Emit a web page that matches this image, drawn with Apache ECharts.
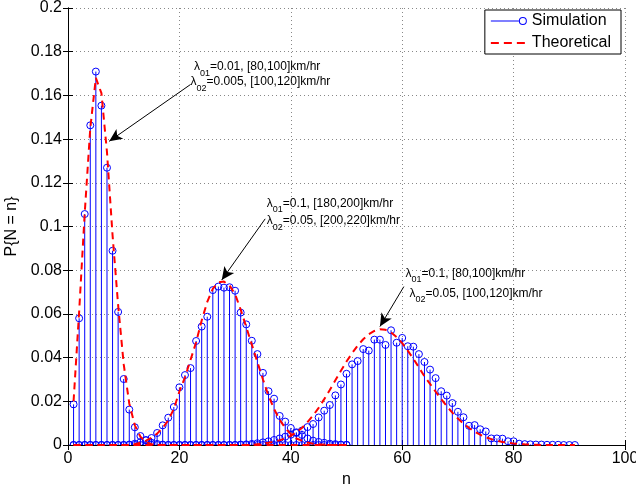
<!DOCTYPE html>
<html>
<head>
<meta charset="utf-8">
<script src="https://cdn.jsdelivr.net/npm/echarts@6/dist/echarts.min.js"></script>
<style>
  html, body { margin: 0; padding: 0; background: #fff; }
  #chart { width: 636px; height: 489px; }
</style>
</head>
<body>
<div id="chart"></div>
<script>
// simulated P{N = n}, index i -> n = i + 1
var simA = [0.0186, 0.058, 0.1057, 0.1463, 0.1709, 0.1553, 0.1269, 0.0889, 0.0609, 0.0302,
  0.0162, 0.0081, 0.0041, 0.0022, 0.001, 0.0005, 0.0002, 0, 0, 0,
  0, 0, 0, 0, 0, 0, 0, 0, 0, 0,
  0, 0, 0, 0, 0, 0, 0, 0, 0, 0,
  0, 0, 0, 0, 0, 0, 0, 0, 0, 0]
var simB = [0, 0, 0, 0, 0, 0, 0, 0, 0, 0,
  0.0002, 0.0006, 0.0013, 0.0022, 0.0032, 0.0055, 0.009, 0.0125, 0.0174, 0.0264,
  0.032, 0.0352, 0.0476, 0.0542, 0.0587, 0.0709, 0.0725, 0.072, 0.0722, 0.0706,
  0.0606, 0.0552, 0.0477, 0.0416, 0.033, 0.0246, 0.0212, 0.0133, 0.0107, 0.0078,
  0.0058, 0.0046, 0.003, 0.002, 0.0014, 0.001, 0.0006, 0.0004, 0.0002, 0.0001]
var simC = [0, 0, 0, 0, 0, 0, 0, 0, 0, 0,
  0, 0, 0, 0, 0, 0, 0, 0, 0, 0,
  0, 0, 0, 0, 0, 0, 0, 0, 0, 0,
  0.0002, 0.0003, 0.0005, 0.0008, 0.0012, 0.0017, 0.0023, 0.003, 0.0038, 0.0047,
  0.0055, 0.0066, 0.0082, 0.0096, 0.0126, 0.0157, 0.0183, 0.0227, 0.0277, 0.0326,
  0.0369, 0.0384, 0.0439, 0.0432, 0.0482, 0.0482, 0.0458, 0.0525, 0.0468, 0.049,
  0.0452, 0.045, 0.0416, 0.038, 0.0345, 0.0306, 0.0246, 0.0226, 0.0192, 0.0152,
  0.0127, 0.0088, 0.0091, 0.0072, 0.0062, 0.003, 0.003, 0.0029, 0.0017, 0.0017,
  0.0006, 0.0004, 0.0003, 0.0002, 0.0002, 0.0001, 0.0001, 0.0001, 0, 0,
  0]

// theoretical P{N = n}
var thA = [0.02, 0.061, 0.106, 0.145, 0.168, 0.161, 0.134, 0.096, 0.064, 0.037,
  0.019, 0.009, 0.0038, 0.0014, 0.0004, 0.0001, 0, 0, 0, 0,
  0, 0, 0, 0, 0, 0, 0, 0, 0, 0,
  0, 0, 0, 0, 0, 0, 0, 0, 0, 0,
  0, 0, 0, 0, 0, 0, 0, 0, 0, 0]
var thB = [0, 0, 0, 0, 0, 0, 0, 0, 0, 0,
  0, 0.0004, 0.001, 0.002, 0.0033, 0.0052, 0.0078, 0.0113, 0.0165, 0.0245,
  0.031, 0.039, 0.047, 0.057, 0.0655, 0.0715, 0.0745, 0.0748, 0.073, 0.069,
  0.062, 0.054, 0.046, 0.038, 0.03, 0.0225, 0.0165, 0.0115, 0.0078, 0.005,
  0.003, 0.002, 0.0011, 0.0006, 0.0003, 0.0001, 0, 0, 0, 0]
var thC = [0, 0, 0, 0, 0, 0, 0, 0, 0, 0,
  0, 0, 0, 0, 0, 0, 0, 0, 0, 0,
  0, 0, 0, 0, 0, 0, 0, 0, 0, 0,
  0, 0, 0, 0.0003, 0.0006, 0.001, 0.0015, 0.0022, 0.003, 0.0042,
  0.0058, 0.0078, 0.0105, 0.0135, 0.017, 0.021, 0.0252, 0.0296, 0.034, 0.0382,
  0.042, 0.0455, 0.0484, 0.0507, 0.0522, 0.053, 0.0527, 0.0515, 0.0494, 0.0466,
  0.0432, 0.0395, 0.0355, 0.0314, 0.028, 0.0244, 0.021, 0.0178, 0.0148, 0.0121,
  0.0098, 0.0078, 0.0061, 0.0047, 0.0036, 0.0027, 0.002, 0.0014, 0.001, 0.0007,
  0.0005, 0.0003, 0.0002, 0.0001, 0, 0, 0, 0, 0, 0,
  0]

var xTicks = [0, 20, 40, 60, 80, 100]
var yTicks = [0, 0.02, 0.04, 0.06, 0.08, 0.1, 0.12, 0.14, 0.16, 0.18, 0.2]

// annotations: [n, P] anchor of each text line, and arrows [from, to]
var notes = [
  { at: [22.6, 0.1731], lam: '01', txt: '=0.01, [80,100]km/hr' },
  { at: [22.0, 0.1663], lam: '02', txt: '=0.005, [100,120]km/hr' },
  { at: [35.7, 0.1106], lam: '01', txt: '=0.1, [180,200]km/hr' },
  { at: [35.7, 0.1027], lam: '02', txt: '=0.05, [200,220]km/hr' },
  { at: [60.6, 0.0786], lam: '01', txt: '=0.1, [80,100]km/hr' },
  { at: [61.3, 0.0694], lam: '02', txt: '=0.05, [100,120]km/hr' }
]
var arrows = [
  [[22.0, 0.165], [7.4, 0.139]],
  [[35.4, 0.1035], [27.6, 0.0755]],
  [[60.3, 0.0725], [56.0, 0.0542]]
]

var FONT = 'Liberation Sans, Arial, Helvetica, sans-serif'

function toPts(arr) {
  return arr.map(function(v, i) { return [i + 1, v] })
}

function renderStem(params, api) {
  var x = api.value(0)
  var y = api.value(1)
  var p0 = api.coord([x, 0])
  var p1 = api.coord([x, y])
  return {
    type: 'group',
    children: [
      { type: 'line', shape: { x1: p0[0], y1: p0[1], x2: p1[0], y2: p1[1] }, style: { stroke: '#0000ff', lineWidth: 1 } },
      { type: 'circle', shape: { cx: p1[0], cy: p1[1], r: 3.5 }, style: { fill: 'none', stroke: '#0000ff', lineWidth: 1 } }
    ]
  }
}

// legend icons: line ending in an open circle, and a dashed line
var simIcon = 'path://M0,4.6 L28,4.6 L28,5.4 L0,5.4 Z M36,5 A4,4 0 1,0 28,5 A4,4 0 1,0 36,5 Z M35,5 A3,3 0 1,1 29,5 A3,3 0 1,1 35,5 Z M0,0 L0.1,0 L0.1,0.1 Z M0,10 L0.1,10 L0.1,9.9 Z'
var thIcon = 'path://M0,4 L8,4 L8,6 L0,6 Z M13,4 L21,4 L21,6 L13,6 Z M26,4 L34,4 L34,6 L26,6 Z M0,0 L0.1,0 L0.1,0.1 Z M36,10 L35.9,10 L35.9,9.9 Z'

function stemSeries(arr) {
  return {
    name: 'Simulation',
    type: 'custom',
    color: '#0000ff',
    renderItem: renderStem,
    clip: true,
    encode: { x: 0, y: 1 },
    data: toPts(arr),
    z: 2
  }
}

function theorySeries(arr) {
  return {
    name: 'Theoretical',
    type: 'line',
    color: '#ff0000',
    showSymbol: false,
    symbol: 'none',
    lineStyle: { color: '#ff0000', width: 2, type: [7, 5] },
    data: toPts(arr),
    z: 3
  }
}

var noteSeries = {
  type: 'scatter',
  silent: true,
  symbolSize: 0,
  data: [],
  markPoint: {
    symbol: 'circle',
    symbolSize: 0,
    silent: true,
    data: notes.map(function(d) {
      return {
        coord: d.at,
        label: {
          show: true,
          position: [0, 0],
          align: 'left',
          verticalAlign: 'middle',
          formatter: '{l|λ}{s|' + d.lam + '}{t|' + d.txt + '}',
          rich: {
            l: { fontSize: 12, fontFamily: FONT, color: '#000' },
            s: { fontSize: 9, fontFamily: FONT, color: '#000', padding: [13, 0, 0, 0] },
            t: { fontSize: 12, fontFamily: FONT, color: '#000' }
          }
        }
      }
    })
  },
  markLine: {
    silent: true,
    symbol: ['none', 'arrow'],
    symbolSize: [9, 13],
    label: { show: false },
    lineStyle: { color: '#000', width: 1, type: 'solid' },
    data: arrows.map(function(a) {
      return [{ coord: a[0] }, { coord: a[1] }]
    })
  },
  z: 5
}

var chart = echarts.init(document.getElementById('chart'))

var axisCommon = {
  axisLine: { show: true, lineStyle: { color: '#000', width: 1 } },
  axisTick: { show: true, inside: true, length: 5, lineStyle: { color: '#000' } }
}
var labelStyle = { color: '#000', fontSize: 16, fontFamily: FONT, margin: 6 }

var option = {
  animation: false,
  backgroundColor: '#fff',
  textStyle: { fontFamily: FONT },
  grid: { left: 68, right: 11, top: 8, bottom: 44, show: false, outerBoundsMode: 'none', containLabel: false },
  legend: {
    data: [
      { name: 'Simulation', icon: simIcon },
      { name: 'Theoretical', icon: thIcon }
    ],
    orient: 'vertical',
    right: 15,
    top: 10,
    itemWidth: 36,
    itemHeight: 10,
    itemGap: 6,
    padding: [3, 10, 3, 6],
    borderColor: '#000',
    borderWidth: 1,
    backgroundColor: '#fff',
    itemStyle: { borderWidth: 0 },
    textStyle: { fontSize: 16, color: '#000', fontFamily: FONT }
  },
  xAxis: [
    Object.assign({}, axisCommon, {
      type: 'value', min: 0, max: 100, interval: 20,
      name: 'n', nameLocation: 'middle', nameGap: 26,
      nameTextStyle: { fontSize: 16, color: '#000', fontFamily: FONT },
      axisLabel: labelStyle,
      splitLine: { show: true, lineStyle: { color: '#888', type: [1, 3] } }
    }),
    Object.assign({}, axisCommon, {
      type: 'value', min: 0, max: 100, interval: 20, position: 'top',
      axisLabel: { show: false }, splitLine: { show: false }
    })
  ],
  yAxis: [
    Object.assign({}, axisCommon, {
      type: 'value', min: 0, max: 0.2, interval: 0.02,
      name: 'P{N = n}', nameLocation: 'middle', nameGap: 48,
      nameTextStyle: { fontSize: 16, color: '#000', fontFamily: FONT },
      axisLabel: Object.assign({}, labelStyle, {
        formatter: function(v) { return String(+v.toFixed(2)) }
      }),
      splitLine: { show: true, lineStyle: { color: '#888', type: [1, 3] } }
    }),
    Object.assign({}, axisCommon, {
      type: 'value', min: 0, max: 0.2, interval: 0.02, position: 'right',
      axisLabel: { show: false }, splitLine: { show: false }
    })
  ],
  series: [
    stemSeries(simA),
    theorySeries(thA),
    stemSeries(simB),
    theorySeries(thB),
    stemSeries(simC),
    theorySeries(thC),
    noteSeries
  ]
}

chart.setOption(option)
</script>
</body>
</html>
